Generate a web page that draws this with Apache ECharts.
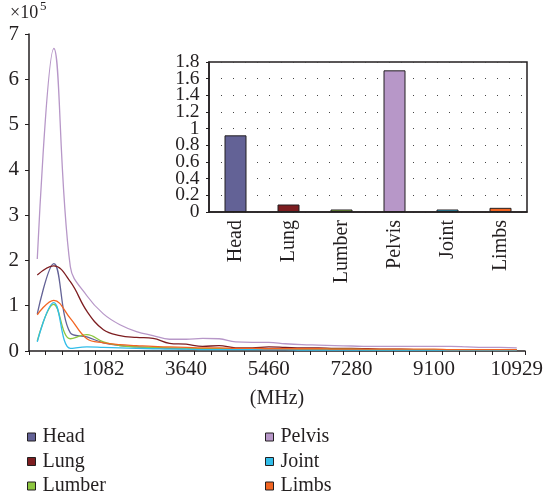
<!DOCTYPE html>
<html><head><meta charset="utf-8">
<script src="https://cdn.jsdelivr.net/npm/echarts@6/dist/echarts.min.js"></script>
<style>html,body{margin:0;padding:0;background:#fff}#c{width:546px;height:500px}</style>
</head><body><div id="c"></div>
<script>
// ---- data ----
const freqLabels = ['364','728','1092','1456','1082','2184','2548','2912','3276','3640',
  '4004','4368','4732','5096','5460','5824','6188','6552','6916','7280',
  '7644','8008','8372','8736','9100','9464','9828','10192','10556','10929'];
const head   = [0.82,1.93,0.40,0.31,0.18,0.12,0.09,0.07,0.06,0.05,0.05,0.04,0.04,0.04,0.03,0.03,0.03,0.03,0.03,0.03,0.03,0.03,0.02,0.02,0.02,0.02,0.02,0.02,0.02,0.02];
const lung   = [1.68,1.88,1.53,0.88,0.47,0.34,0.30,0.28,0.17,0.15,0.10,0.12,0.07,0.07,0.09,0.08,0.07,0.07,0.06,0.06,0.05,0.04,0.04,0.03,0.03,0.03,0.03,0.03,0.03,0.03];
const lumber = [0.22,1.03,0.27,0.36,0.20,0.12,0.09,0.08,0.07,0.06,0.05,0.05,0.04,0.04,0.04,0.04,0.04,0.04,0.04,0.04,0.03,0.03,0.03,0.03,0.03,0.03,0.03,0.03,0.03,0.03];
const pelvis = [2.03,6.68,1.86,1.22,0.82,0.58,0.43,0.34,0.26,0.26,0.28,0.27,0.20,0.19,0.19,0.16,0.14,0.13,0.12,0.11,0.10,0.10,0.10,0.10,0.10,0.10,0.09,0.08,0.08,0.07];
const joint  = [0.20,1.07,0.06,0.09,0.08,0.07,0.06,0.05,0.04,0.04,0.03,0.03,0.03,0.03,0.03,0.03,0.02,0.02,0.02,0.02,0.02,0.02,0.02,0.02,0.02,0.02,0.02,0.02,0.02,0.02];
const limbs  = [0.80,1.12,0.72,0.27,0.18,0.14,0.12,0.10,0.09,0.08,0.07,0.07,0.06,0.06,0.05,0.05,0.05,0.05,0.04,0.04,0.04,0.04,0.04,0.04,0.04,0.03,0.03,0.03,0.03,0.03];
const seriesNames = ['Head','Lung','Lumber','Pelvis','Joint','Limbs'];
const seriesData = [head, lung, lumber, pelvis, joint, limbs];
const colors = ['#636296','#7d1d20','#8dc63f','#b797c8','#31bde9','#f26522'];
const insetCategories = ['Head','Lung','Lumber','Pelvis','Joint','Limbs'];
const insetValues = [0.92,0.09,0.03,1.70,0.03,0.05];
const insetTickValues = [0, 0.2, 0.4, 0.6, 0.8, 1, 1.2, 1.4, 1.6, 1.8];
const insetTickLabels = ['0','0.2','0.4','0.6','0.8','1','1.2','1.4','1.6','1.8'];

// ---- chart ----
const FONT = 'Liberation Serif';
const INK = '#231f20';
const chart = echarts.init(document.getElementById('c'), null, {renderer:'canvas'});
const txt = (size) => ({fontFamily: FONT, fontSize: size, color: INK});

const lineSeries = seriesNames.map((n, i) => ({
  name: n, type: 'line', xAxisIndex: 0, yAxisIndex: 0,
  data: seriesData[i], smooth: 0.4, showSymbol: false, symbol: 'none',
  color: colors[i], lineStyle: {width: 1.3, color: colors[i]}, z: 3
}));

const legendBase = {
  orient: 'vertical', top: 427, padding: 0,
  icon: 'rect', itemWidth: 8, itemHeight: 8, itemGap: 4.5,
  itemStyle: {borderColor: INK, borderWidth: 1},
  textStyle: Object.assign({lineHeight: 20, padding: [0,0,0,2]}, txt(20))
};

const option = {
  animation: false,
  backgroundColor: '#fff',
  grid: [
    {left: 29, right: 20, top: 34, bottom: 149},
    {left: 209, right: 19, top: 62, bottom: 288, show: true, borderColor: INK, borderWidth: 1.5, backgroundColor: '#fff', z: 5}
  ],
  xAxis: [
    {type: 'category', gridIndex: 0, data: freqLabels, boundaryGap: true,
     axisLine: {lineStyle: {color: INK, width: 1.5}},
     axisTick: {show: true, interval: 0, length: 4, lineStyle: {color: INK}},
     axisLabel: Object.assign({interval: (i) => i % 5 === 4, margin: 8}, txt(21)),
     name: '(MHz)', nameLocation: 'middle', nameGap: 38, nameTextStyle: txt(20)},
    {type: 'category', gridIndex: 1, data: insetCategories, boundaryGap: true,
     axisLine: {lineStyle: {color: INK, width: 1.5}},
     axisTick: {show: false},
     axisLabel: Object.assign({rotate: 90, margin: 8, interval: 0}, txt(20)),
     z: 6}
  ],
  yAxis: [
    {type: 'value', gridIndex: 0, min: 0, max: 7, interval: 1,
     axisLine: {show: true, lineStyle: {color: INK, width: 1.5}},
     axisTick: {show: true, length: 4, lineStyle: {color: INK}},
     splitLine: {show: false},
     axisLabel: Object.assign({margin: 10, showMinLabel: true, showMaxLabel: true}, txt(21))},
    {type: 'value', gridIndex: 1, min: 0, max: 1.8, interval: 0.2,
     axisLine: {show: true, lineStyle: {color: INK, width: 1.5}},
     axisTick: {show: true, length: 3, lineStyle: {color: INK}},
     splitLine: {show: true, lineStyle: {color: '#444', width: 1, type: [1, 11], dashOffset: 0}},
     axisLabel: {show: false},
     z: 6}
  ],
  legend: [
    Object.assign({left: 27, data: ['Head','Lung','Lumber']}, legendBase),
    Object.assign({left: 265, data: ['Pelvis','Joint','Limbs']}, legendBase)
  ],
  graphic: [
    {id: 'exp1', type: 'text', left: 10, top: 4, style: {text: '×10', font: '18px "Liberation Serif"', fill: INK}},
    {id: 'exp2', type: 'text', left: 40, top: 0, style: {text: '5', font: '13px "Liberation Serif"', fill: INK}}
  ],
  series: lineSeries.concat([{
    name: 'inset', type: 'bar', xAxisIndex: 1, yAxisIndex: 1, barWidth: 22, z: 7,
    data: insetValues.map((v, i) => ({value: v, itemStyle: {color: colors[i], borderColor: INK, borderWidth: 1}}))
  }])
};
chart.setOption(option);

// inset y-axis tick labels, placed through the inset axis scale
const insetLabelEls = insetTickValues.map((v, i) => {
  const y = chart.convertToPixel({yAxisIndex: 1}, v);
  return {id: 'iyl' + i, type: 'text', x: 199.5, y: y, z: 10,
    style: {text: insetTickLabels[i], font: '19.5px "Liberation Serif"', fill: INK,
            align: 'right', verticalAlign: 'middle'}};
});
chart.setOption({graphic: insetLabelEls});
</script>
</body></html>
